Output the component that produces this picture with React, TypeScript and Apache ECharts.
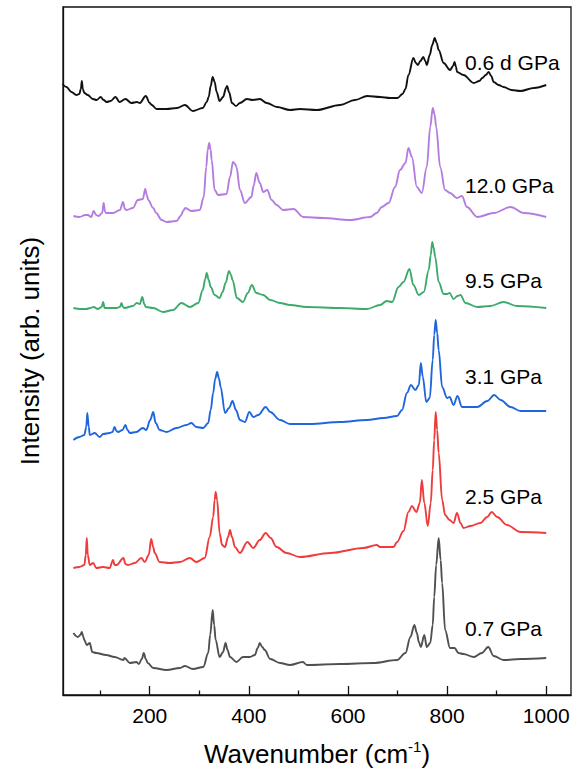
import React, { useEffect, useRef } from "react";
import * as echarts from "echarts";

// Wavenumber (cm-1) vs. intensity (arb. units, already offset for stacking)
const spectrum06d: [number, number][] = [
  [24, 611], [32, 608], [42, 603], [52, 600], [58, 601], [61, 606], [63, 614], [65, 606], [68, 602], [75, 600], [85, 596], [93, 595],
  [101, 598], [107, 595], [113, 593], [121, 594], [131, 598], [139, 593], [151, 596], [163, 592], [174, 593], [180, 592],
  [192, 599], [200, 592], [204, 590], [214, 586], [234, 586], [255, 587], [271, 590], [287, 584], [307, 587], [315, 593],
  [319, 598], [323, 609], [327, 618], [331, 613], [335, 603], [341, 594], [348, 598], [354, 607], [356, 609], [360, 603],
  [366, 592], [374, 589], [382, 592], [396, 596], [408, 595], [422, 596], [436, 592], [457, 588], [483, 585], [503, 586],
  [537, 585], [584, 590], [614, 595], [639, 599], [665, 598], [685, 597], [700, 597], [710, 601], [716, 606], [722, 620],
  [732, 637], [737, 632], [741, 630], [746, 634], [752, 638], [756, 634], [759, 630], [765, 640], [770, 650], [775, 657],
  [779, 652], [783, 645], [793, 632], [806, 625], [812, 629], [815, 633], [818, 628], [820, 623], [833, 620], [854, 612],
  [865, 614], [871, 617], [878, 620], [884, 623], [889, 619], [894, 613], [904, 610], [914, 608], [930, 605], [948, 604],
  [975, 607], [1000, 610],
];

const spectrum120: [number, number][] = [
  [46, 479], [58, 478], [70, 480], [75, 480], [82, 478], [87, 484], [92, 480], [97, 479], [104, 482], [107, 492], [110, 483],
  [112, 482], [126, 482], [140, 485], [146, 493], [150, 486], [153, 485], [166, 487], [176, 495], [186, 496], [191, 506],
  [194, 500], [197, 495], [207, 487], [213, 482], [224, 475], [234, 473], [254, 474], [264, 480], [267, 484], [272, 487],
  [284, 484], [301, 485], [309, 498], [314, 528], [317, 545], [320, 552], [323, 545], [325, 535], [331, 505], [338, 500],
  [355, 501], [362, 518], [368, 533], [372, 531], [375, 528], [382, 505], [392, 492], [405, 498], [410, 510], [415, 522],
  [422, 512], [429, 503], [437, 505], [446, 495], [456, 490], [469, 485], [490, 486], [510, 478], [550, 477], [604, 475],
  [645, 478], [658, 482], [668, 488], [682, 492], [695, 508], [705, 525], [716, 532], [722, 547], [729, 538], [739, 508],
  [749, 502], [759, 528], [766, 568], [771, 587], [775, 580], [778, 568], [786, 528], [796, 505], [806, 502], [820, 497],
  [830, 499], [840, 488], [861, 478], [894, 482], [928, 488], [955, 482], [1000, 478],
];

const spectrum95: [number, number][] = [
  [46, 387], [60, 386], [72, 386], [80, 387], [87, 388], [95, 386], [103, 388], [106, 393], [109, 387], [112, 387], [133, 387],
  [140, 388], [143, 392], [146, 388], [149, 387], [166, 389], [174, 392], [180, 391], [185, 398], [189, 391], [192, 388],
  [207, 387], [227, 383], [247, 385], [264, 392], [281, 388], [298, 392], [307, 405], [312, 416], [315, 422], [319, 415],
  [323, 408], [331, 400], [341, 397], [347, 403], [353, 412], [360, 424], [364, 420], [367, 415], [376, 397], [388, 393],
  [398, 402], [406, 410], [415, 402], [429, 400], [443, 395], [463, 392], [483, 390], [517, 388], [584, 387], [638, 386],
  [665, 390], [678, 394], [689, 393], [702, 408], [712, 413], [724, 426], [732, 410], [743, 400], [753, 403], [763, 425],
  [767, 440], [770, 453], [773, 447], [776, 438], [783, 413], [793, 401], [800, 401], [805, 402], [813, 396], [821, 399],
  [827, 400], [837, 392], [861, 388], [887, 389], [914, 393], [941, 389], [1000, 387],
];

const spectrum31: [number, number][] = [
  [46, 255], [58, 258], [68, 260], [72, 268], [74, 282], [77, 268], [79, 260], [89, 262], [99, 258], [106, 261], [119, 262],
  [125, 263], [129, 268], [133, 264], [136, 263], [145, 265], [151, 270], [155, 265], [160, 262], [173, 263], [186, 267],
  [193, 265], [201, 275], [207, 283], [212, 272], [220, 265], [234, 263], [254, 267], [274, 270], [284, 272], [294, 268],
  [308, 267], [318, 272], [323, 285], [328, 302], [332, 316], [336, 323], [340, 316], [343, 308], [352, 282], [360, 287],
  [367, 294], [374, 285], [382, 275], [392, 273], [401, 283], [409, 278], [419, 280], [434, 288], [443, 283], [463, 275],
  [483, 271], [523, 271], [584, 273], [638, 275], [672, 277], [699, 279], [709, 285], [719, 302], [727, 310], [736, 305],
  [743, 310], [747, 332], [751, 318], [758, 293], [765, 297], [771, 335], [774, 360], [777, 375], [780, 362], [783, 345],
  [790, 308], [800, 297], [805, 298], [813, 290], [821, 299], [830, 288], [847, 288], [861, 288], [881, 294], [895, 300],
  [908, 295], [928, 288], [948, 284], [1000, 284],
];

const spectrum25: [number, number][] = [
  [46, 127], [58, 128], [68, 130], [71, 140], [73, 157], [75, 140], [79, 130], [86, 132], [92, 127], [106, 128], [119, 127],
  [126, 135], [129, 130], [133, 130], [147, 137], [151, 131], [156, 130], [170, 132], [183, 137], [190, 133], [198, 140],
  [203, 156], [207, 148], [210, 142], [220, 133], [240, 132], [261, 133], [281, 137], [294, 133], [311, 137], [321, 158],
  [328, 178], [331, 195], [333, 203], [336, 195], [341, 162], [346, 150], [352, 148], [358, 158], [362, 165], [366, 158],
  [372, 148], [382, 142], [397, 153], [409, 147], [422, 155], [434, 162], [444, 157], [456, 148], [476, 142], [503, 138],
  [564, 142], [631, 147], [658, 150], [665, 148], [692, 148], [699, 153], [712, 164], [722, 183], [729, 189], [738, 183],
  [745, 192], [749, 215], [754, 192], [761, 169], [767, 192], [771, 225], [774, 255], [777, 283], [780, 265], [783, 242],
  [790, 195], [796, 180], [805, 175], [813, 172], [820, 182], [827, 172], [833, 167], [847, 169], [867, 172], [881, 178],
  [890, 183], [901, 178], [921, 170], [948, 163], [1000, 162],
];

const spectrum07: [number, number][] = [
  [46, 62], [55, 58], [60, 60], [63, 63], [66, 58], [68, 55], [73, 50], [79, 52], [84, 43], [92, 42], [112, 40], [129, 38],
  [147, 35], [149, 37], [160, 32], [173, 33], [178, 31], [184, 36], [188, 42], [192, 36], [196, 32], [207, 27], [234, 25],
  [261, 27], [271, 29], [287, 26], [308, 28], [318, 42], [322, 60], [327, 85], [330, 70], [333, 55], [341, 38], [348, 43],
  [353, 52], [357, 45], [362, 38], [375, 33], [388, 38], [402, 38], [412, 40], [418, 47], [422, 52], [427, 48], [432, 45],
  [443, 36], [463, 32], [483, 30], [509, 33], [517, 30], [584, 31], [651, 32], [699, 35], [716, 42], [726, 58], [734, 70],
  [739, 62], [743, 53], [747, 48], [754, 60], [759, 48], [766, 52], [771, 70], [774, 98], [778, 130], [783, 157], [787, 135],
  [790, 112], [796, 65], [806, 47], [815, 47], [823, 42], [833, 41], [854, 38], [870, 42], [883, 48], [894, 39], [914, 35],
  [948, 36], [1000, 37],
];

const seriesLabels = ["0.6 d GPa", "12.0 GPa", "9.5 GPa", "3.1 GPa", "2.5 GPa", "0.7 GPa"];
const majorTicks = [200, 400, 600, 800, 1000];
const minorTicks = [100, 300, 500, 700, 900];

const FONT = "'Liberation Sans', Arial, Helvetica, sans-serif";

export default function App() {
  const ref = useRef<HTMLDivElement>(null);

  useEffect(() => {
    if (!ref.current) return;
    const chart = echarts.init(ref.current, null, { renderer: "svg" });

    const allData = [spectrum06d, spectrum120, spectrum95, spectrum31, spectrum25, spectrum07];
    const colors = ["#111111", "#B47CE0", "#3BAA6A", "#1F66DD", "#EE3B3B", "#505050"];
    const labelYs = [62, 185, 280, 376, 496, 628];

    const option: any = {
      animation: false,
      backgroundColor: "#ffffff",
      grid: {
        left: 63,
        right: 10,
        top: 7,
        bottom: 80,
        show: true,
        borderColor: "#111",
        borderWidth: 1.3,
        backgroundColor: "transparent",
      },
      xAxis: [
        {
          type: "value",
          min: 25,
          max: 1050,
          name: "Wavenumber (cm{sup|-1})",
          nameLocation: "middle",
          nameGap: 44,
          nameTextStyle: {
            fontFamily: FONT,
            fontSize: 26,
            color: "#000",
            rich: {
              sup: { fontFamily: FONT, fontSize: 15, color: "#000", padding: [0, 0, 14, 0] },
            },
          },
          axisLine: { show: true, lineStyle: { color: "#111", width: 1.3 } },
          axisTick: { show: true, inside: true, length: 9, customValues: majorTicks, lineStyle: { color: "#111", width: 1.3 } },
          axisLabel: {
            show: true,
            customValues: majorTicks,
            margin: 10,
            fontFamily: FONT,
            fontSize: 21,
            color: "#000",
            formatter: (v: number) => String(Math.round(v)),
          },
          splitLine: { show: false },
        },
        {
          type: "value",
          min: 25,
          max: 1050,
          position: "bottom",
          axisLine: { show: false },
          axisTick: { show: true, inside: true, length: 4.5, customValues: minorTicks, lineStyle: { color: "#111", width: 1.3 } },
          axisLabel: { show: false },
          splitLine: { show: false },
        },
      ],
      yAxis: {
        type: "value",
        min: 0,
        max: 688,
        name: "Intensity (arb. units)",
        nameLocation: "middle",
        nameGap: 20,
        nameTextStyle: { fontFamily: FONT, fontSize: 26, color: "#000" },
        axisLine: { show: true, lineStyle: { color: "#111", width: 1.3 } },
        axisTick: { show: false },
        axisLabel: { show: false },
        splitLine: { show: false },
      },
      series: allData.map((d, i) => ({
        type: "line",
        name: seriesLabels[i],
        data: d,
        xAxisIndex: 0,
        showSymbol: false,
        smooth: 0.35,
        smoothMonotone: "x",
        lineStyle: { color: colors[i], width: 1.9 },
        itemStyle: { color: colors[i] },
      })),
      graphic: seriesLabels.map((t, i) => ({
        type: "text",
        x: 465,
        y: labelYs[i],
        style: {
          text: t,
          fontFamily: FONT,
          fontSize: 21,
          fill: "#000",
          align: "left",
          verticalAlign: "middle",
        },
      })),
    };

    chart.setOption(option);
    return () => chart.dispose();
  }, []);

  return (
    <div
      ref={ref}
      style={{ position: "absolute", left: 0, top: 0, width: 581, height: 775, background: "#fff" }}
    />
  );
}
